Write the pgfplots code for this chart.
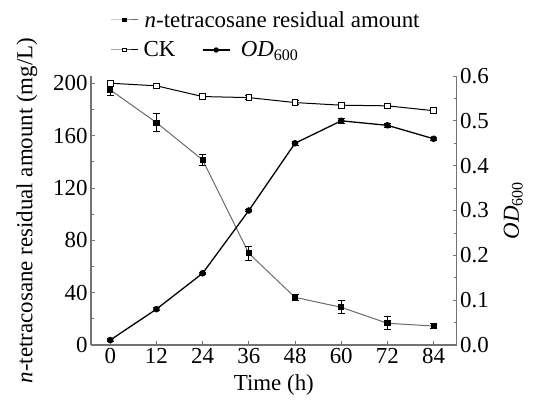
\documentclass[border=0pt]{standalone}
\usepackage{fontspec}
\setmainfont{Liberation Serif}
\usepackage{pgfplots}
\pgfplotsset{compat=1.18}
\usetikzlibrary{calc}

\definecolor{axgray}{gray}{0.45}
\definecolor{resgray}{gray}{0.42}

\newcommand{\bigfont}{\fontsize{23}{26}\selectfont}

\pgfplotsset{
  base/.style={
    scale only axis, width=365.7bp, height=269bp,
    xmin=-5, xmax=90,
    tick align=inside,
    major tick length=4bp, minor tick length=2.5bp,
    every tick/.style={axgray, line width=0.8bp},
    axis line style={axgray, line width=1.2bp, -},
    tick label style={font=\bigfont},
    label style={font=\bigfont},
    xticklabel={\textrm{\pgfmathprintnumber[assume math mode=true]{\tick}}},
    yticklabel={\textrm{\pgfmathprintnumber[assume math mode=true]{\tick}}},
    legend style={draw=none, fill=none, font=\bigfont, inner sep=0pt,
      nodes={inner sep=2.5bp}},
    legend cell align=left,
    legend image code/.code={\draw[mark repeat=2,mark phase=2]
      plot coordinates {(0bp,0bp) (13.5bp,0bp) (27bp,0bp)};},
  },
}

\begin{document}
\begin{tikzpicture}
\begin{axis}[base, name=main,
    axis x line*=bottom, axis y line*=left,
    ymin=0, ymax=205.5,
    ytick={0,40,80,120,160,200}, minor y tick num=1,
    xtick={0,12,24,36,48,60,72,84},
    xlabel={Time (h)},
    xlabel style={yshift=-4bp},
    ylabel={\textit{n}-tetracosane residual amount (mg/L)},
    ylabel style={yshift=9bp},
    legend style={at={(0,1)}, anchor=west, xshift=19bp, yshift=56bp},
]
\addlegendimage{resgray, line width=1bp, mark=square*, mark size=1.8bp,
    mark options={black, fill=black}}
\addlegendentry{\hspace{4bp}\textit{n}-tetracosane residual amount}
% residual n-tetracosane
\addplot[resgray, line width=1bp, mark=square*, mark size=2.6bp,
    mark options={black, fill=black}, forget plot,
    error bars/.cd, y dir=both, y explicit,
    error bar style={black, line width=0.8bp},
    error mark options={rotate=90, mark size=3.5bp, black, line width=0.8bp}]
  table[x=t, y=v, y error=e] {
t v e
0 194.9 4
12 169.9 7
24 141.4 4
36 70 5
48 36.4 2
60 28.8 5
72 16.6 5
84 14.5 2
};
% CK (control)
\addplot[black, line width=1bp, mark=square*, mark size=2.8bp,
    mark options={fill=white, line width=0.9bp}, forget plot,
    error bars/.cd, y dir=both, y explicit,
    error bar style={black, line width=0.8bp},
    error mark options={rotate=90, mark size=3.5bp, black, line width=0.8bp}]
  table[x=t, y=v, y error=e] {
t v e
0 200 1.5
12 198 1.5
24 189.8 1.5
36 189 1.5
48 185.2 1.5
60 183.2 1.5
72 182.7 2
84 179 1.5
};
\end{axis}

\begin{axis}[base,
    axis x line=none, axis y line*=right,
    ymin=0, ymax=0.6,
    ytick={0,0.1,0.2,0.3,0.4,0.5,0.6}, minor y tick num=1,
    yticklabel={\textrm{\pgfmathprintnumber[assume math mode=true,
      fixed, fixed zerofill, precision=1]{\tick}}},
    ylabel={\textit{OD}\textsubscript{600}},
    ylabel style={yshift=-8bp},
    legend columns=2,
    legend style={at={(0,1)}, anchor=west, xshift=19bp, yshift=26bp,
      /tikz/every even column/.append style={column sep=24bp}},
]
\addlegendimage{black, line width=1bp, mark=square*, mark size=1.8bp,
    mark options={fill=white, line width=0.8bp}}
\addlegendentry{\hspace{3bp}CK}
\addlegendimage{black, line width=1.3bp, mark=*, mark size=2bp}
\addlegendentry{\hspace{8bp}\textit{OD}\textsubscript{600}}
\addplot[black, line width=1.3bp, mark=*, mark size=2.6bp, forget plot,
    error bars/.cd, y dir=both, y explicit,
    error bar style={black, line width=0.8bp},
    error mark options={rotate=90, mark size=3.5bp, black, line width=0.8bp}]
  table[x=t, y=v, y error=e] {
t v e
0 0.011 0.003
12 0.080 0.003
24 0.160 0.003
36 0.300 0.003
48 0.450 0.004
60 0.500 0.005
72 0.490 0.004
84 0.460 0.004
};
\end{axis}
\pgfresetboundingbox
\path[use as bounding box] ($(main.south west)+(-91bp,-58bp)$)
  rectangle ($(main.north east)+(76.3bp,76bp)$);
\end{tikzpicture}
\end{document}
